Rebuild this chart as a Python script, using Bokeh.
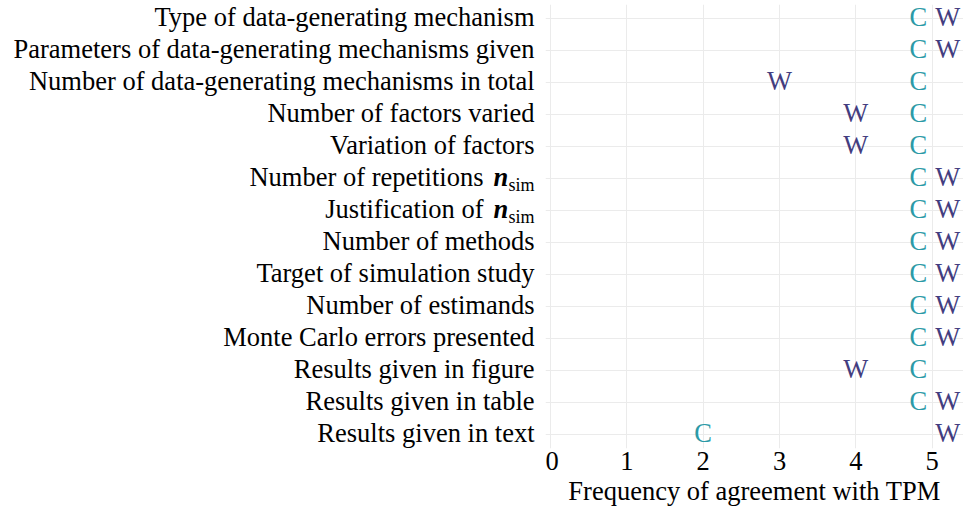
import numpy as np
from bokeh.plotting import figure
from bokeh.models import ColumnDataSource, Range1d, FixedTicker
from bokeh.layouts import row
from bokeh.core.properties import value
from bokeh.embed import file_html
from bokeh.resources import INLINE

# ---- data ----
categories = [
    "Type of data-generating mechanism",
    "Parameters of data-generating mechanisms given",
    "Number of data-generating mechanisms in total",
    "Number of factors varied",
    "Variation of factors",
    "Number of repetitions n_sim",
    "Justification of n_sim",
    "Number of methods",
    "Target of simulation study",
    "Number of estimands",
    "Monte Carlo errors presented",
    "Results given in figure",
    "Results given in table",
    "Results given in text",
]
c_values = [5, 5, 5, 5, 5, 5, 5, 5, 5, 5, 5, 5, 5, 2]
w_values = [5, 5, 3, 4, 4, 5, 5, 5, 5, 5, 5, 4, 5, 5]
x_ticks = [0, 1, 2, 3, 4, 5]
x_title = "Frequency of agreement with TPM"

FONT = "Liberation Serif"
FS = "26.5px"
C_COL = "#2c9aa7"
W_COL = "#433d7f"
GRID = "#ebebeb"

ys = list(range(len(categories)))
PX_PER_ROW = 32.0

W, H = 963, 510
TOP, BOTTOM = 4, 62
FIRST_ROW_PX = 18
LEFT_W = 545
RIGHT_W = W - LEFT_W
TOP_PAD = (FIRST_ROW_PX - TOP) / PX_PER_ROW

frame_h = H - TOP - BOTTOM
y_range = Range1d(start=-TOP_PAD + frame_h / PX_PER_ROW, end=-TOP_PAD)

# ---- left label panel ----
lp = figure(width=LEFT_W, height=H, x_range=Range1d(0, LEFT_W), y_range=y_range,
            output_backend="svg", toolbar_location=None,
            min_border_top=TOP, min_border_bottom=BOTTOM, min_border_left=0, min_border_right=0)
lp.axis.visible = False
lp.grid.visible = False
lp.outline_line_color = None
lp.background_fill_color = None
lp.border_fill_color = None

LABEL_X = 534
MID_OFF = -2
plain_txt, plain_y, main_txt, main_y = [], [], [], []
for lab, y in zip(categories, ys):
    if lab.endswith(" n_sim"):
        main_txt.append(lab[:-len(" n_sim")])
        main_y.append(y)
    else:
        plain_txt.append(lab)
        plain_y.append(y)

lp.text(x=[LABEL_X] * len(plain_y), y=plain_y, text=plain_txt, text_align="right",
        text_baseline="middle", y_offset=MID_OFF, text_font=value(FONT),
        text_font_size=FS, text_color="black")
lp.text(x=[LABEL_X] * len(main_y), y=main_y, text=main_txt, text_align="right",
        text_baseline="middle", x_offset=-51, y_offset=MID_OFF, text_font=value(FONT),
        text_font_size=FS, text_color="black")
lp.text(x=[LABEL_X] * len(main_y), y=main_y, text=["n"] * len(main_y), text_align="left",
        text_baseline="middle", x_offset=-41, y_offset=MID_OFF, text_font=value(FONT),
        text_font_size=FS, text_font_style="bold italic", text_color="black")
lp.text(x=[LABEL_X] * len(main_y), y=main_y, text=["sim"] * len(main_y), text_align="left",
        text_baseline="middle", x_offset=-26, y_offset=MID_OFF + 8, text_font=value(FONT),
        text_font_size="18px", text_color="black")

# ---- right chart panel ----
p = figure(width=RIGHT_W, height=H, x_range=Range1d(-0.0655, 5.41), y_range=y_range,
           output_backend="svg", toolbar_location=None,
           min_border_top=TOP, min_border_bottom=BOTTOM, min_border_left=0, min_border_right=0)
p.outline_line_color = None
p.yaxis.visible = False
p.xaxis.ticker = FixedTicker(ticks=x_ticks)
p.xaxis.axis_line_color = None
p.xaxis.major_tick_line_color = None
p.xaxis.minor_tick_line_color = None
p.xaxis.major_label_text_font = FONT
p.xaxis.major_label_text_font_size = FS
p.xaxis.major_label_text_color = "black"
p.xaxis.major_label_standoff = -3
p.xaxis.axis_label = x_title
p.xaxis.axis_label_text_font = FONT
p.xaxis.axis_label_text_font_size = FS
p.xaxis.axis_label_text_font_style = "normal"
p.xaxis.axis_label_text_color = "black"
p.xaxis.axis_label_standoff = 3
p.xgrid.ticker = FixedTicker(ticks=x_ticks)
p.ygrid.ticker = FixedTicker(ticks=ys)
p.grid.grid_line_color = GRID
p.grid.grid_line_width = 1

xmax = max(x_ticks)
def align_for(vals, side):
    al, off = [], []
    for v in vals:
        if v == xmax:
            al.append(side)
            off.append(-5 if side == "right" else 3)
        else:
            al.append("center")
            off.append(0)
    return al, off

c_al, c_off = align_for(c_values, "right")
w_al, w_off = align_for(w_values, "left")
src_c = ColumnDataSource(dict(x=c_values, y=ys, t=["C"] * len(ys), al=c_al, off=c_off))
src_w = ColumnDataSource(dict(x=w_values, y=ys, t=["W"] * len(ys), al=w_al, off=w_off))
p.text(x="x", y="y", text="t", source=src_c, text_align="al", x_offset="off", y_offset=MID_OFF,
       text_baseline="middle", text_font=value(FONT), text_font_size=FS, text_color=C_COL)
p.text(x="x", y="y", text="t", source=src_w, text_align="al", x_offset="off", y_offset=MID_OFF,
       text_baseline="middle", text_font=value(FONT), text_font_size=FS, text_color=W_COL)

layout = row(lp, p)
open("out.html", "w").write(file_html(layout, INLINE))
